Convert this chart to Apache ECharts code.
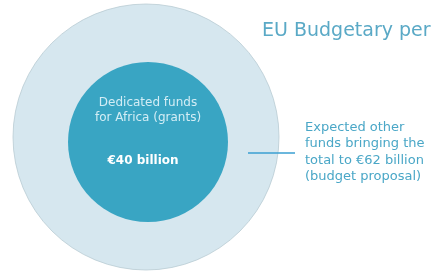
<!DOCTYPE html>
<html>
<head>
<meta charset="utf-8">
<script src="https://cdn.jsdelivr.net/npm/echarts@6/dist/echarts.min.js"></script>
<style>
  html, body { margin: 0; padding: 0; background: #fff; }
  #chart { width: 431px; height: 273px; }
</style>
</head>
<body>
<div id="chart"></div>
<script>
// values in € billion
const categories = ['Dedicated funds for Africa (grants)', 'Expected other funds bringing the total (budget proposal)']
const totals = [40, 62]
const titleText = 'EU Budgetary period 2021-2027'

const chart = echarts.init(document.getElementById('chart'))

chart.setOption({
  animation: false,
  series: [{
    // outer circle: whole envelope
    type: 'pie',
    silent: true,
    center: [146, 137],
    radius: [0, 133],
    label: { show: false },
    labelLine: { show: false },
    itemStyle: {
      color: '#d6e7ef',
      borderColor: '#b9cbd3',
      borderWidth: 0.8
    },
    data: [{ name: categories[1], value: totals[1] }]
  }, {
    // inner circle: dedicated funds
    type: 'pie',
    silent: true,
    center: [148, 142],
    radius: [0, 80],
    itemStyle: { color: '#39a5c3' },
    label: {
      show: true,
      position: 'center',
      offset: [0, -10],
      formatter: () => '{a|Dedicated funds}\n{a|for Africa (grants)}\n{gap|}\n{b|€' + totals[0] + ' billion}',
      rich: {
        a: { fontFamily: 'DejaVu Sans', fontSize: 12, color: '#d3edf5', lineHeight: 15, align: 'center' },
        gap: { fontSize: 12, lineHeight: 28 },
        b: { fontFamily: 'DejaVu Sans', fontSize: 12, fontWeight: 'bold', color: '#ffffff', lineHeight: 16, align: 'center', padding: [0, 10, 0, 0] }
      }
    },
    labelLine: { show: false },
    data: [{ name: categories[0], value: totals[0] }]
  }],
  graphic: [{
    type: 'text',
    left: 262,
    top: 22,
    z: 100,
    style: {
      text: titleText,
      fill: '#5aa9c6',
      font: '19px "DejaVu Sans"'
    }
  }, {
    type: 'line',
    z: 100,
    shape: { x1: 248, y1: 153, x2: 295, y2: 153 },
    style: { stroke: '#3a9fd2', lineWidth: 1.3 }
  }, {
    type: 'text',
    left: 305,
    top: 119,
    z: 100,
    style: {
      text: 'Expected other\nfunds bringing the\ntotal to €' + totals[1] + ' billion\n(budget proposal)',
      fill: '#4aa7c7',
      font: '13px "DejaVu Sans"',
      lineHeight: 16.5
    }
  }]
})
</script>
</body>
</html>
